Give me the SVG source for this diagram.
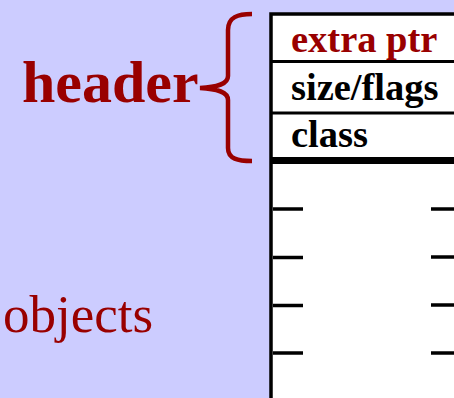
<svg xmlns="http://www.w3.org/2000/svg" width="454" height="398" viewBox="0 0 454 398">
<style>
.lbl{font-family:"Liberation Serif","Times New Roman",serif;font-weight:bold;font-size:38.5px}
.red{fill:#990000}
.blk{fill:#000}
.tick{stroke:#000;stroke-width:3.5}
</style>
<rect width="454" height="398" fill="#CCCCFF"/>
<g id="object">
<rect x="271" y="14" width="190" height="390" fill="#fff" stroke="#000" stroke-width="3.5"/>
<rect x="271" y="157" width="190" height="7" fill="#000"/>
<line x1="271" y1="61.5" x2="454" y2="61.5" stroke="#000" stroke-width="3"/>
<line x1="271" y1="113" x2="454" y2="113" stroke="#000" stroke-width="3"/>
</g>
<g id="extra-ptr"><text class="lbl red" x="291" y="52">extra ptr</text></g>
<g id="size-flags"><text class="lbl blk" x="291" y="100">size/flags</text></g>
<g id="class"><text class="lbl blk" x="291" y="147">class</text></g>
<g id="ticks">
<line class="tick" x1="273" y1="209" x2="303" y2="209"/>
<line class="tick" x1="273" y1="257.5" x2="303" y2="257.5"/>
<line class="tick" x1="273" y1="305.5" x2="303" y2="305.5"/>
<line class="tick" x1="273" y1="353" x2="303" y2="353"/>
<line class="tick" x1="431" y1="209" x2="454" y2="209"/>
<line class="tick" x1="431" y1="257" x2="454" y2="257"/>
<line class="tick" x1="431" y1="305" x2="454" y2="305"/>
<line class="tick" x1="431" y1="353" x2="454" y2="353"/>
</g>
<g id="header"><text x="22" y="102" font-family="'Liberation Serif','Times New Roman',serif" font-weight="bold" font-size="60" fill="#990000">header</text></g>
<g id="connectors">
<path d="M252,14 C238,14 228,17 228,30 L228,76 C228,84 218,87 200,88 C218,89 228,92 228,100 L228,148 C228,159 238,161 252,161" fill="none" stroke="#990000" stroke-width="4.5"/>
</g>
<g id="objects"><text x="3" y="332" font-family="'Liberation Serif','Times New Roman',serif" font-size="53" fill="#990000">objects</text></g>
</svg>
